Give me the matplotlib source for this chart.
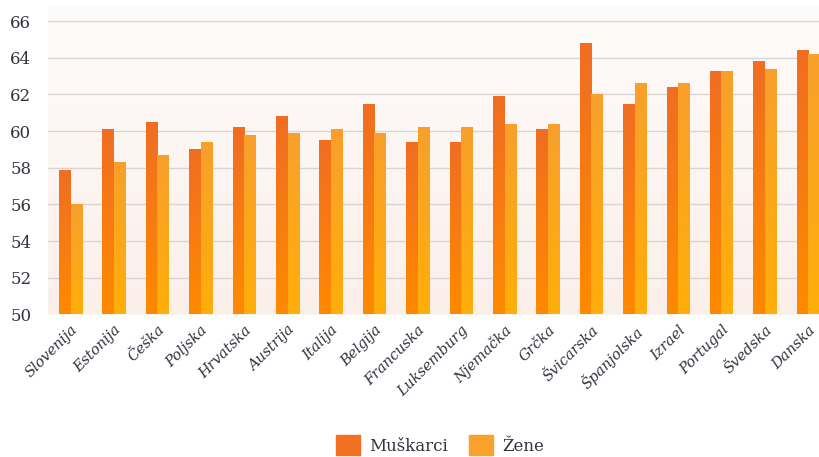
import numpy as np
import matplotlib
matplotlib.use("Agg")
import matplotlib.pyplot as plt
from matplotlib.colors import LinearSegmentedColormap
from matplotlib.patches import Patch

countries = ["Slovenija", "Estonija", "Češka", "Poljska", "Hrvatska", "Austrija",
             "Italija", "Belgija", "Francuska", "Luksemburg", "Njemačka", "Grčka",
             "Švicarska", "Španjolska", "Izrael", "Portugal", "Švedska", "Danska"]
muskarci = [57.9, 60.1, 60.5, 59.0, 60.2, 60.8, 59.5, 61.5, 59.4, 59.4, 61.9, 60.1,
            64.8, 61.5, 62.4, 63.3, 63.8, 64.4]
zene = [56.0, 58.3, 58.7, 59.4, 59.8, 59.9, 60.1, 59.9, 60.2, 60.2, 60.4, 60.4,
        62.0, 62.6, 62.6, 63.3, 63.4, 64.2]
yticks = [50, 52, 54, 56, 58, 60, 62, 64, 66]

text_col = "#333340"
plt.rcParams["font.family"] = ["DejaVu Serif"]

fig = plt.figure(figsize=(8.2, 4.57), dpi=100)
ax = fig.add_axes([48 / 820, 142.5 / 457, 1 - 48 / 820, 308.5 / 457])

ylo, yhi = 50, 66.82
xlo, xhi = -0.52, 17.27

# soft background gradient
bg = LinearSegmentedColormap.from_list("bg", ["#fbefea", "#fefcfb"])
ax.imshow(np.linspace(0, 1, 256).reshape(-1, 1), cmap=bg, origin="lower",
          extent=[xlo, xhi, ylo, yhi], aspect="auto", zorder=0)

for t in yticks:
    ax.axhline(t, color="#d9d5d3", lw=1.0, zorder=1)

x = np.arange(len(countries))
w = 0.265
cm_m = LinearSegmentedColormap.from_list("m", ["#ff8a00", "#f06d22"])
cm_z = LinearSegmentedColormap.from_list("z", ["#ffae0a", "#f8a02c"])
grad = np.linspace(0, 1, 128).reshape(-1, 1)

bars_m = ax.bar(x - w / 2, np.array(muskarci) - ylo, w, bottom=ylo,
                color="none", zorder=2)
bars_z = ax.bar(x + w / 2, np.array(zene) - ylo, w, bottom=ylo,
                color="none", zorder=2)
for bars, cm in ((bars_m, cm_m), (bars_z, cm_z)):
    for b in bars:
        x0, y0 = b.get_x(), b.get_y()
        im = ax.imshow(grad, cmap=cm, origin="lower", aspect="auto",
                       extent=[x0, x0 + b.get_width(), y0, y0 + b.get_height()],
                       zorder=2)
        im.set_clip_path(b)

ax.set_xlim(xlo, xhi)
ax.set_ylim(ylo, yhi)
ax.set_yticks(yticks)
ax.set_yticklabels([str(t) for t in yticks], fontsize=12, color=text_col)
ax.set_xticks(x)
ax.set_xticklabels(countries, rotation=45, ha="right", rotation_mode="anchor",
                   fontsize=10.5, style="italic", color=text_col)
ax.tick_params(axis="both", length=0)
ax.tick_params(axis="y", pad=12)
ax.tick_params(axis="x", pad=6)
for s in ax.spines.values():
    s.set_visible(False)

handles = [Patch(color="#f37022", label="Muškarci"), Patch(color="#f9a12a", label="Žene")]
fig.legend(handles=handles, loc="center", bbox_to_anchor=(0.537, 0.026), ncol=2,
           frameon=False, fontsize=12, handlelength=1.4, handleheight=1.4,
           handletextpad=0.6, columnspacing=1.25, labelcolor=text_col)

fig.savefig("out.png", dpi=100)
